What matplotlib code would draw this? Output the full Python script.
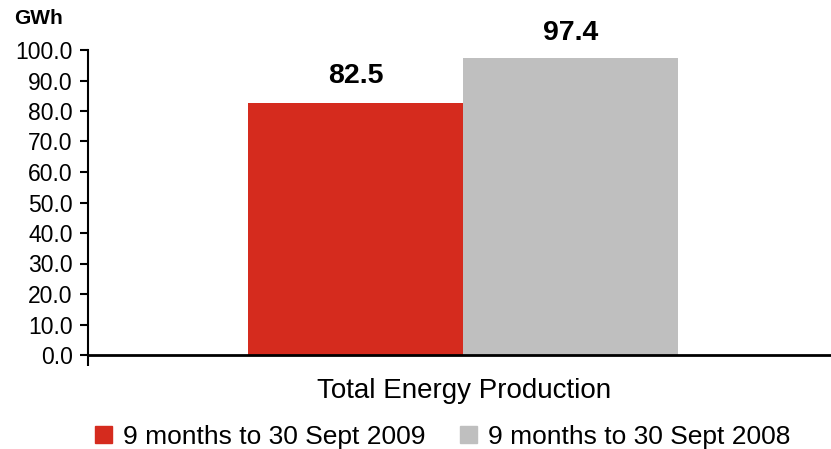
import matplotlib
matplotlib.use("Agg")
import matplotlib.pyplot as plt
from matplotlib.patches import Patch

plt.rcParams['font.family'] = ['Liberation Sans', 'DejaVu Sans']

category = "Total Energy Production"
series_names = ["9 months to 30 Sept 2009", "9 months to 30 Sept 2008"]
values = [82.5, 97.4]
colors = ["#D52B1E", "#BFBFBF"]
yticks = [0, 10, 20, 30, 40, 50, 60, 70, 80, 90, 100]

fig = plt.figure(figsize=(8.31, 4.49), dpi=100)
ax = fig.add_axes([88 / 831, (449 - 355) / 449, 1 - 88 / 831, (355 - 50) / 449])

width = 0.573
offsets = [-width / 2, width / 2]
label_gap = [6.6, 5.8]
for off, v, c, g in zip(offsets, values, colors, label_gap):
    ax.bar(off, v, width=width, color=c, zorder=2)
    ax.text(off, v + g, f"{v:.1f}", ha="center", va="baseline",
            fontsize=20.5, fontweight="bold")

ax.set_ylim(0, 100)
ax.set_xlim(-1, (831 - 463) / (463 - 88))
ax.set_yticks(yticks)
ax.set_yticklabels([f"{t:.1f}" for t in yticks], fontsize=16.5)
ax.set_xticks([-1])
ax.set_xticklabels([""])
ax.tick_params(axis="y", length=6, width=1.5, pad=5)
ax.tick_params(axis="x", length=8, width=1.5, direction="out")
for s in ["top", "right"]:
    ax.spines[s].set_visible(False)
ax.spines["left"].set_linewidth(1.5)
ax.spines["bottom"].set_linewidth(2)

fig.text(464 / 831, 1 - 391 / 449, category, ha="center", va="center", fontsize=20)
fig.text(14 / 831, 1 - 18.5 / 449, "GWh", ha="left", va="center",
         fontsize=15, fontweight="bold")

handles = [Patch(color=c, label=n) for c, n in zip(colors, series_names)]
fig.legend(handles=handles, loc="center", bbox_to_anchor=(443 / 831, 12 / 449),
           ncol=2, frameon=False, fontsize=19, handlelength=0.62,
           handleheight=0.62, handletextpad=0.45, columnspacing=1.3,
           borderpad=0)

fig.savefig("out.png", dpi=100)
